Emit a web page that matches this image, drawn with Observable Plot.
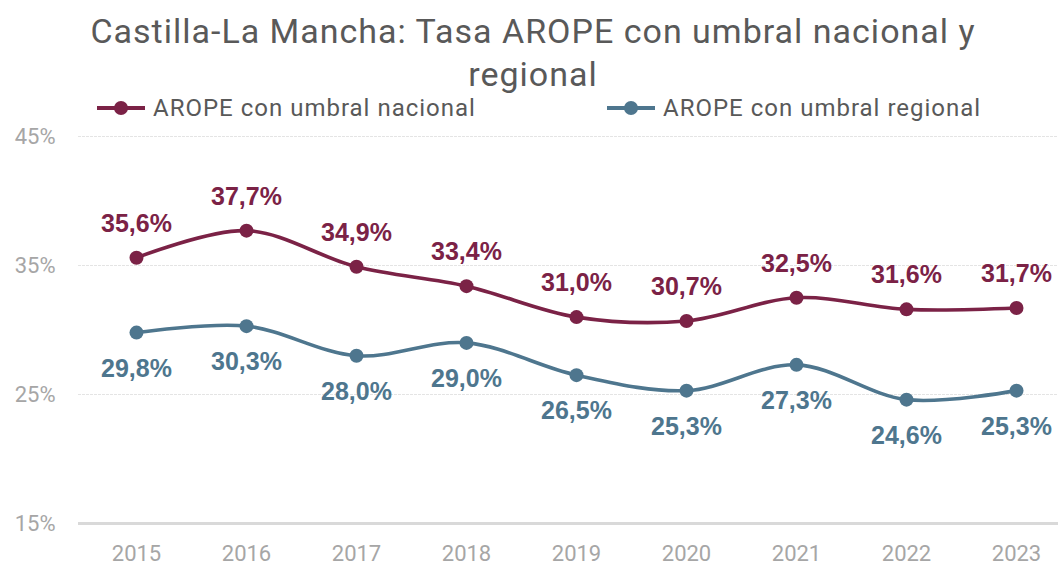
<!DOCTYPE html>
<html>
<head>
<meta charset="utf-8">
<script src="https://cdn.jsdelivr.net/npm/d3@7"></script>
<script src="https://cdn.jsdelivr.net/npm/@observablehq/plot@0.6"></script>
<style>
  body { margin: 0; background: #fff; width: 1060px; height: 565px; overflow: hidden; font-family: Roboto, "Liberation Sans", sans-serif; }
  #title { position: absolute; left: 0; top: 10px; width: 1066px; text-align: center; font-size: 34px; letter-spacing: 1px; line-height: 43px; color: #595959; }
  #legend { position: absolute; top: 94px; left: 0; width: 1060px; height: 28px; }
  .leg { position: absolute; display: flex; align-items: center; font-size: 24px; letter-spacing: 1px; color: #595959; }
  #chart { position: absolute; left: 0; top: 120px; }
</style>
</head>
<body>
<div id="title">Castilla-La Mancha: Tasa AROPE con umbral nacional y<br>regional</div>
<div id="legend"></div>
<div id="chart"></div>
<script>
const years = ["2015","2016","2017","2018","2019","2020","2021","2022","2023"];
const nacional = [35.6, 37.7, 34.9, 33.4, 31.0, 30.7, 32.5, 31.6, 31.7];
const regional = [29.8, 30.3, 28.0, 29.0, 26.5, 25.3, 27.3, 24.6, 25.3];
const yTicks = [15, 25, 35, 45];
const seriesNames = ["AROPE con umbral nacional", "AROPE con umbral regional"];
const colors = ["#7B2246", "#4E768E"];

const rows = [];
years.forEach((yr, i) => {
  rows.push({year: yr, value: nacional[i], s: seriesNames[0]});
  rows.push({year: yr, value: regional[i], s: seriesNames[1]});
});
const fmt = v => v.toFixed(1).replace(".", ",") + "%";

// legend
const legend = document.getElementById("legend");
[[seriesNames[0], colors[0], 97], [seriesNames[1], colors[1], 607]].forEach(([name, col, x]) => {
  const d = document.createElement("div");
  d.className = "leg";
  d.style.left = x + "px";
  d.style.top = "0px";
  d.innerHTML = `<svg width="52" height="28"><line x1="0" x2="48" y1="14" y2="14" stroke="${col}" stroke-width="4"/><circle cx="24" cy="14" r="7" fill="${col}"/></svg><span style="margin-left:4px">${name}</span>`;
  legend.appendChild(d);
});

const labelFont = "'Liberation Sans', Arial, sans-serif";
const chart = Plot.plot({
  width: 1060,
  height: 445,
  marginLeft: 78,
  marginRight: 2,
  marginTop: 16,
  marginBottom: 42,
  style: { fontFamily: "Roboto, 'Liberation Sans', sans-serif", background: "transparent" },
  x: { type: "point", domain: years, range: [133, 1019], padding: 0 },
  y: { domain: [15, 45] },
  color: { domain: seriesNames, range: colors },
  marks: [
    Plot.ruleY(yTicks.filter(t => t > 15), { stroke: "#e4e4e4", strokeWidth: 1, strokeDasharray: "3,1" }),
    Plot.ruleY([15], { stroke: "#d9d9d9", strokeWidth: 3 }),
    Plot.axisY({ ticks: yTicks, tickSize: 0, tickPadding: 23, tickFormat: d => d + "%", fontSize: 22, color: "#a6a6a6", label: null }),
    Plot.axisX({ tickSize: 0, tickPadding: 22, fontSize: 22, color: "#a6a6a6", label: null }),
    Plot.line(rows, { x: "year", y: "value", stroke: "s", z: "s", strokeWidth: 3.6, curve: "catmull-rom" }),
    Plot.dot(rows, { x: "year", y: "value", fill: "s", r: 7 }),
    Plot.text(rows.filter(d => d.s === seriesNames[0]), { x: "year", y: "value", text: d => fmt(d.value), dy: -34, fill: colors[0], fontSize: 25, fontWeight: "bold", fontFamily: labelFont }),
    Plot.text(rows.filter(d => d.s === seriesNames[1]), { x: "year", y: "value", text: d => fmt(d.value), dy: 36, fill: colors[1], fontSize: 25, fontWeight: "bold", fontFamily: labelFont })
  ]
});
document.getElementById("chart").appendChild(chart);
</script>
</body>
</html>
